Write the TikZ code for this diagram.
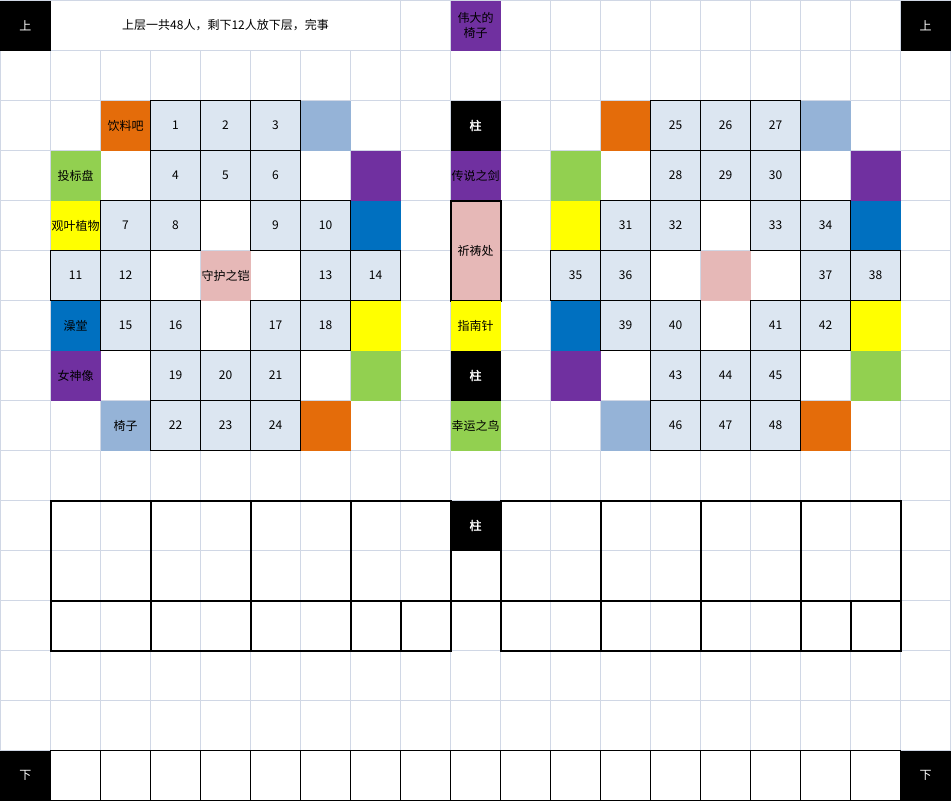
\documentclass[tikz,border=0pt]{standalone}
\usepackage{fontspec}
\setmainfont{Noto Sans CJK SC}[AutoFakeBold=2]
\usepackage{xcolor}
\definecolor{gridc}{RGB}{208,215,229}
\definecolor{seatc}{RGB}{220,230,241}
\definecolor{chairc}{RGB}{149,179,215}
\definecolor{orangec}{RGB}{228,108,10}
\definecolor{greenc}{RGB}{146,208,80}
\definecolor{purplec}{RGB}{112,48,160}
\definecolor{bluec}{RGB}{0,112,192}
\definecolor{yellowc}{RGB}{255,255,0}
\definecolor{pinkc}{RGB}{230,184,183}

\begin{document}
\begin{tikzpicture}[x=50pt, y=-50pt,
  cell/.style={minimum size=50pt, inner sep=0pt, outer sep=0pt, font=\fontsize{12}{15}\selectfont},
  seat/.style={cell, draw=black, line width=1pt, fill=seatc},
  box/.style={cell, draw=black, line width=1pt, fill=white},
  pillar/.style={cell, fill=black, text=white},
  wall/.style={line width=2pt}]
  \useasboundingbox (-0.01,-0.01) rectangle (19.01,16.01);
  % 网格
  \foreach \i in {0,...,19} \draw[gridc, line width=1pt] (\i,0) -- (\i,16);
  \foreach \j in {0,...,16} \draw[gridc, line width=1pt] (0,\j) -- (19,\j);
  % 上层
  \node[pillar] (up1) at (0.5,0.5) {上};
  \node[pillar] (up2) at (18.5,0.5) {上};
  \node[cell, fill=white, minimum width=349pt, minimum height=49pt] (note) at (4.5,0.5) {上层一共48人，剩下12人放下层，完事};
  % 中间一列
  \node[cell, fill=purplec, align=center] (bigchair) at (9.5,0.5) {伟大的\\椅子};
  \node[pillar, font=\fontsize{12}{15}\selectfont\bfseries] (col1) at (9.5,2.5) {柱};
  \node[cell, fill=purplec] (sword) at (9.5,3.5) {传说之剑};
  \node[cell, fill=pinkc, draw=black, line width=2pt, minimum height=100pt] (pray) at (9.5,5) {祈祷处};
  \node[cell, fill=yellowc] (compass) at (9.5,6.5) {指南针};
  \node[pillar, font=\fontsize{12}{15}\selectfont\bfseries] (col2) at (9.5,7.5) {柱};
  \node[cell, fill=greenc] (bird) at (9.5,8.5) {幸运之鸟};
  \node[pillar, font=\fontsize{12}{15}\selectfont\bfseries] (col3) at (9.5,10.5) {柱};
  % 两边的装饰格
  \foreach \dx/\show in {0/1,10/0} {
    \foreach \i/\j/\col/\txt in {2/2/orangec/饮料吧, 6/2/chairc/{}, 1/3/greenc/投标盘, 7/3/purplec/{},
        1/4/yellowc/观叶植物, 7/4/bluec/{}, 4/5/pinkc/守护之铠, 1/6/bluec/澡堂, 7/6/yellowc/{},
        1/7/purplec/女神像, 7/7/greenc/{}, 2/8/chairc/椅子, 6/8/orangec/{}} {
      \pgfmathtruncatemacro\ii{\i+\dx}
      \node[cell, fill=\col] (d\ii-\j) at (\ii+.5,\j+.5) {\ifnum\show=1 \txt\fi};
    }
  }
  % 座位
  \foreach \dx/\m in {0/0,10/24} {
    \foreach \i/\j/\k in {3/2/1,4/2/2,5/2/3,3/3/4,4/3/5,5/3/6,2/4/7,3/4/8,5/4/9,6/4/10,
        1/5/11,2/5/12,6/5/13,7/5/14,2/6/15,3/6/16,5/6/17,6/6/18,3/7/19,4/7/20,5/7/21,
        3/8/22,4/8/23,5/8/24} {
      \pgfmathtruncatemacro\ii{\i+\dx}
      \pgfmathtruncatemacro\num{\k+\m}
      \node[seat] (s\num) at (\ii+.5,\j+.5) {\num};
    }
  }
  % 下层
  \draw[wall] (1,10) rectangle (9,13);
  \draw[wall] (10,10) rectangle (18,13);
  \draw[wall] (1,12) -- (18,12);
  \foreach \x in {3,5,7,12,14,16} \draw[wall] (\x,10) -- (\x,13);
  \foreach \x in {8,17} \draw[wall] (\x,12) -- (\x,13);
  \node[pillar] (down1) at (0.5,15.5) {下};
  \node[pillar] (down2) at (18.5,15.5) {下};
  \foreach \i in {1,...,17} \node[box] (b\i) at (\i+.5,15.5) {};
\end{tikzpicture}
\end{document}
